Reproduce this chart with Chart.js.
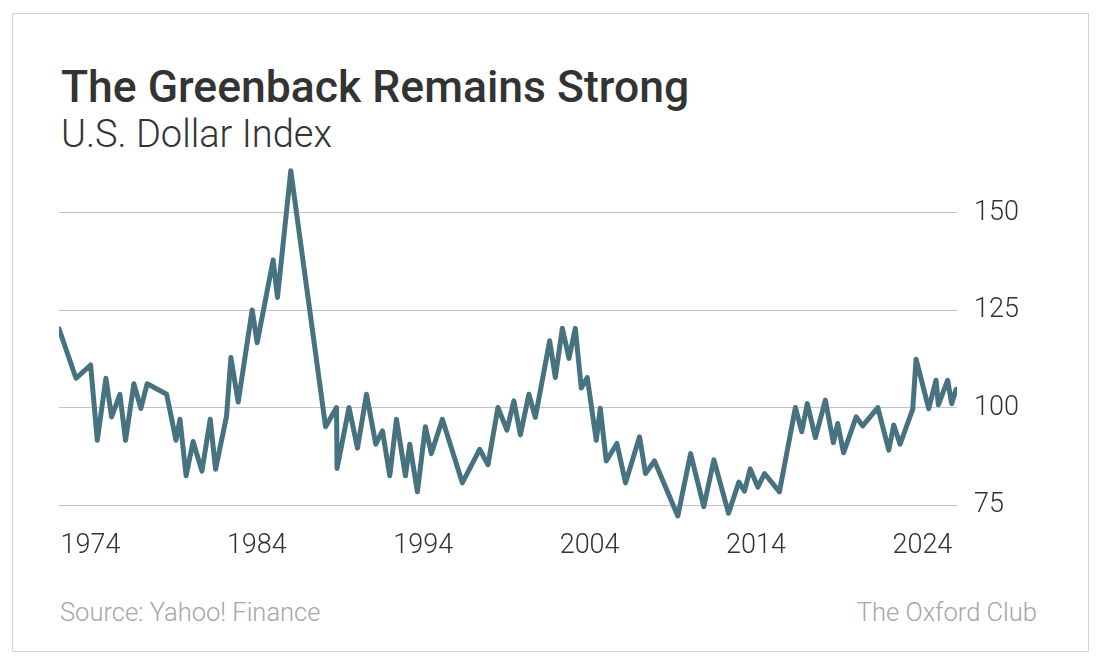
<!DOCTYPE html>
<html>
<head>
<meta charset="utf-8">
<script src="https://cdn.jsdelivr.net/npm/chart.js@4.4.0/dist/chart.umd.min.js"></script>
<style>
  body { margin: 0; background: #fff; width: 1100px; height: 668px; overflow: hidden; position: relative; font-family: Roboto, "Liberation Sans", sans-serif; }
  .frame { position: absolute; left: 12px; top: 13px; width: 1075px; height: 637px; border: 1px solid #d4d4d4; }
  .txt { position: absolute; white-space: nowrap; line-height: 1; }
  #title { left: 61px; top: 65px; font-size: 44.5px; font-weight: 500; color: #333; }
  #subtitle { left: 61px; top: 115px; font-size: 38px; font-weight: 300; color: #333; }
  #source { left: 60px; top: 600px; font-size: 25.5px; font-weight: 300; color: #a6a6a6; }
  #brand { right: 63px; top: 600px; font-size: 25.5px; font-weight: 300; color: #a6a6a6; }
  canvas { position: absolute; left: 0; top: 0; }
</style>
</head>
<body>
<div class="frame"></div>
<div class="txt" id="title">The Greenback Remains Strong</div>
<div class="txt" id="subtitle">U.S. Dollar Index</div>
<div class="txt" id="source">Source: Yahoo! Finance</div>
<div class="txt" id="brand">The Oxford Club</div>
<canvas id="chart_dxy" width="1100" height="668"></canvas>
<script>
// decimal years and index values
const years = [
  1972.11, 1973.13, 1974.01, 1974.41, 1974.93, 1975.27, 1975.77, 1976.11, 1976.61, 1977.03,
  1977.41, 1978.58, 1979.14, 1979.38, 1979.75, 1980.17, 1980.70, 1981.20, 1981.52, 1982.18,
  1982.44, 1982.88, 1983.72, 1984.02, 1984.98, 1985.24, 1986.04, 1988.13, 1988.79, 1988.82,
  1989.54, 1990.05, 1990.59, 1991.15, 1991.55, 1991.99, 1992.39, 1992.93, 1993.19, 1993.65,
  1994.13, 1994.49, 1995.15, 1996.35, 1997.39, 1997.89, 1998.49, 1999.03, 1999.45, 1999.84,
  2000.35, 2000.74, 2001.60, 2001.94, 2002.36, 2002.76, 2003.14, 2003.50, 2003.86, 2004.40,
  2004.64, 2005.00, 2005.64, 2006.16, 2007.00, 2007.36, 2007.90, 2009.30, 2010.07, 2010.86,
  2011.47, 2012.35, 2012.97, 2013.31, 2013.65, 2014.11, 2014.51, 2015.41, 2016.37, 2016.75,
  2017.08, 2017.57, 2018.17, 2018.65, 2018.91, 2019.26, 2020.02, 2020.41, 2021.32, 2021.98,
  2022.28, 2022.66, 2023.42, 2023.62, 2024.38, 2024.82, 2024.96, 2025.52, 2025.76, 2026.03
];
const dxy = [
  120.3, 107.6, 111.0, 91.7, 107.6, 97.7, 103.5, 91.7, 106.2, 99.9,
  106.2, 103.5, 91.7, 97.1, 82.6, 91.4, 83.8, 97.1, 84.3, 97.9,
  112.9, 101.5, 125.1, 116.7, 137.9, 128.3, 160.8, 95.2, 100.1, 84.5,
  100.1, 89.7, 103.5, 90.7, 94.1, 82.6, 97.1, 82.6, 90.7, 78.5,
  95.2, 88.3, 97.1, 80.8, 89.4, 85.4, 100.1, 94.3, 101.8, 93.1,
  103.5, 97.6, 117.2, 107.8, 120.4, 112.7, 120.4, 105.1, 107.8, 91.7,
  99.9, 86.4, 90.9, 80.8, 92.6, 83.2, 86.4, 72.3, 88.3, 74.7,
  86.7, 73.0, 81.0, 78.7, 84.4, 79.7, 83.2, 78.5, 100.1, 93.9,
  101.1, 92.4, 102.0, 91.1, 96.0, 88.5, 97.7, 95.4, 100.1, 89.2,
  95.6, 90.7, 99.7, 112.5, 99.8, 107.1, 100.8, 107.1, 101.1, 104.8
];
const xTicks = [1974, 1984, 1994, 2004, 2014, 2024];
const yTicks = [75, 100, 125, 150];

const points = years.map((yr, i) => ({ x: yr, y: dxy[i] }));
const tickFont = { family: "Roboto, 'Liberation Sans', sans-serif", size: 27, weight: 300 };

new Chart(document.getElementById("chart_dxy").getContext("2d"), {
  type: "line",
  data: {
    datasets: [{
      data: points,
      borderColor: "#46737f",
      borderWidth: 5,
      borderJoinStyle: "round",
      borderCapStyle: "round",
      pointRadius: 0,
      tension: 0,
      fill: false,
    }],
  },
  options: {
    responsive: false,
    animation: false,
    plugins: { legend: { display: false }, tooltip: { enabled: false } },
    layout: { padding: { left: 59, top: 166, right: 0, bottom: 0 } },
    scales: {
      x: {
        type: "linear",
        min: 1972.11,
        max: 2026.08,
        grid: { display: false, drawTicks: false },
        border: { display: false },
        afterBuildTicks: s => { s.ticks = xTicks.map(v => ({ value: v })); },
        afterFit: s => { s.height = 143; },
        ticks: { color: "#333", font: tickFont, padding: 5, maxRotation: 0, autoSkip: false, callback: v => String(v) },
      },
      y: {
        position: "right",
        min: 70,
        max: 162,
        grid: { color: "#c4c4c4", lineWidth: 1, drawTicks: false },
        border: { display: false },
        afterBuildTicks: s => { s.ticks = yTicks.map(v => ({ value: v })); },
        afterFit: s => { s.width = 143; },
        ticks: { color: "#333", font: tickFont, padding: 17, callback: v => String(v) },
      },
    },
  },
});
</script>
</body>
</html>
